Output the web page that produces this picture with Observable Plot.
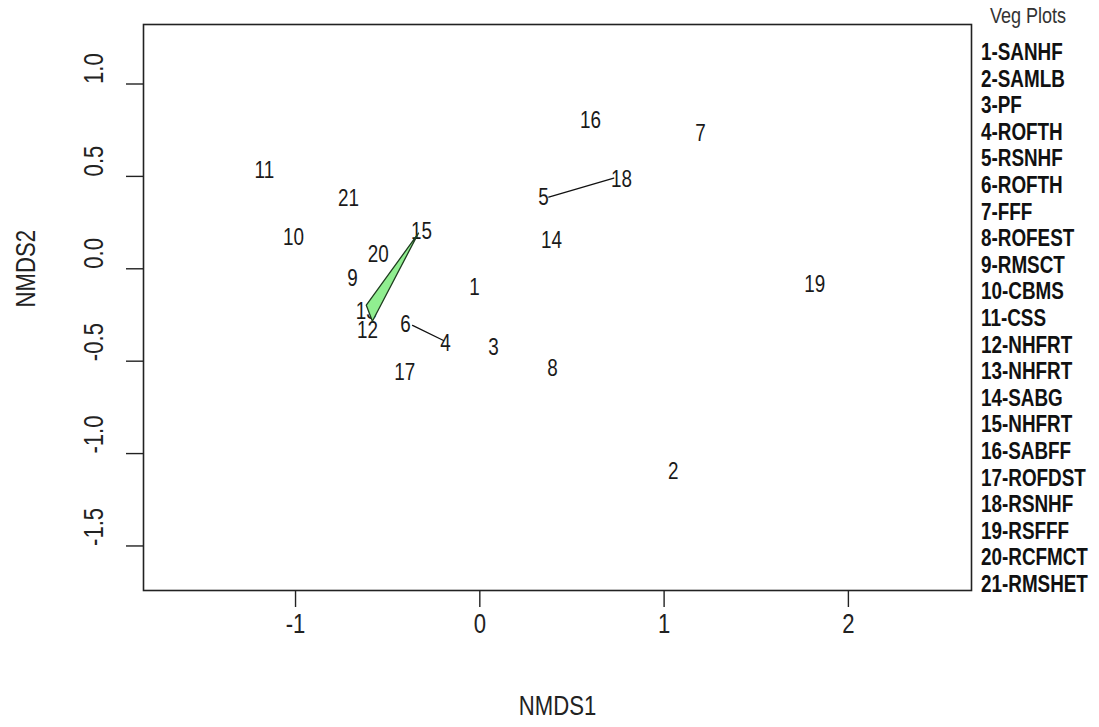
<!DOCTYPE html>
<html>
<head>
<meta charset="utf-8">
<script src="https://cdn.jsdelivr.net/npm/d3@7"></script>
<script src="https://cdn.jsdelivr.net/npm/@observablehq/plot@0.6"></script>
<style>
  html, body { margin: 0; padding: 0; background: #ffffff; }
  #wrap { position: relative; width: 1099px; height: 727px; font-family: "Liberation Sans", Arial, sans-serif; }
  #legend { position: absolute; left: 0; top: 0; width: 1099px; height: 727px; pointer-events: none; }
  .lg-title { position: absolute; font-size: 22px; color: #333; transform-origin: 50% 50%; transform: translate(-50%, -50%) scaleX(0.82); white-space: nowrap; }
  .lg-item { position: absolute; font-size: 23px; font-weight: bold; color: #111; transform-origin: 0 50%; transform: translateY(-50%) scaleX(0.82); white-space: nowrap; }
</style>
</head>
<body>
<div id="wrap"><div id="chart"></div><div id="legend"></div></div>
<script>
// ---- Data ----
const plotIds = [1, 2, 3, 4, 5, 6, 7, 8, 9, 10, 11, 12, 13, 14, 15, 16, 17, 18, 19, 20, 21];
const nmds1 = [-0.029, 1.050, 0.074, -0.186, 0.346, -0.403, 1.197, 0.394, -0.691, -1.011,
               -1.169, -0.610, -0.616, 0.389, -0.316, 0.601, -0.408, 0.769, 1.817, -0.551, -0.713];
const nmds2 = [-0.100, -1.098, -0.427, -0.404, 0.383, -0.301, 0.730, -0.539, -0.056, 0.166,
               0.530, -0.333, -0.230, 0.155, 0.199, 0.800, -0.561, 0.481, -0.084, 0.074, 0.378];
const plotNames = ["SANHF", "SAMLB", "PF", "ROFTH", "RSNHF", "ROFTH", "FFF", "ROFEST", "RMSCT", "CBMS",
                   "CSS", "NHFRT", "NHFRT", "SABG", "NHFRT", "SABFF", "ROFDST", "RSNHF", "RSFFF", "RCFMCT", "RMSHET"];

// hull outlines (vertices in NMDS units)
const hullGroup = ["NHFRT", "NHFRT", "NHFRT", "RSNHF", "RSNHF", "ROFTH", "ROFTH"];
const hullX = [-0.333, -0.616, -0.583, 0.374, 0.727, -0.365, -0.197];
const hullY = [0.193, -0.197, -0.284, 0.388, 0.491, -0.306, -0.388];
const hullFill = {NHFRT: "#90ee90", RSNHF: "none", ROFTH: "none"};

const xTicks = [-1, 0, 1, 2];
const yTicks = [-1.5, -1.0, -0.5, 0.0, 0.5, 1.0];
const xDomain = [-1.825, 2.668];
const yDomain = [-1.741, 1.322];
const legendTitle = "Veg Plots";

// ---- Build tables ----
const points = plotIds.map((id, i) => ({id, x: nmds1[i], y: nmds2[i]}));
const hullPts = hullX.map((x, i) => ({g: hullGroup[i], x, y: hullY[i]}));
const hullNames = [...new Set(hullGroup)];

const FONT = '"Liberation Sans", Arial, sans-serif';
const SQUEEZE = 0.82; // the reference's type is horizontally condensed

const chart = Plot.plot({
  width: 1099,
  height: 727,
  marginLeft: 143,
  marginRight: 128,
  marginTop: 24,
  marginBottom: 137,
  style: {fontFamily: FONT, background: "white", color: "#111"},
  x: {domain: xDomain, axis: null},
  y: {domain: yDomain, axis: null},
  marks: [
    Plot.frame({stroke: "#222", strokeWidth: 1.6}),
    Plot.axisX({ticks: xTicks, tickSize: 17, tickFormat: () => "", stroke: "#222", strokeWidth: 1.4, label: null}),
    Plot.axisY({ticks: yTicks, tickSize: 17, tickFormat: () => "", stroke: "#222", strokeWidth: 1.4, label: null}),
    Plot.text(xTicks, {x: d => d, text: d => String(d), frameAnchor: "bottom", dy: 42, fontSize: 27, fill: "#222"}),
    Plot.text(yTicks, {y: d => d, text: d => d.toFixed(1), frameAnchor: "left", dx: -49, rotate: -90, fontSize: 27, fill: "#222"}),
    Plot.text(["NMDS1"], {frameAnchor: "bottom", dy: 124, text: d => d, fontSize: 27, fill: "#222"}),
    Plot.text(["NMDS2"], {frameAnchor: "left", dx: -117, rotate: -90, text: d => d, fontSize: 27, fill: "#222"}),
    Plot.text(points, {x: "x", y: "y", text: d => String(d.id), fontSize: 23, fill: "#1a1a1a"}),
    ...hullNames.map(g => Plot.line(hullPts.filter(d => d.g === g), {
      x: "x", y: "y", curve: "linear-closed",
      fill: hullFill[g], fillOpacity: 1, stroke: g === "NHFRT" ? "#1f3d1f" : "#111", strokeWidth: 1.3
    }))
  ]
});
document.getElementById("chart").appendChild(chart);

// condense every text glyph run horizontally (along its own writing direction) about its anchor
chart.querySelectorAll("text").forEach(el => {
  const tx = parseFloat(el.getAttribute("x") || 0);
  const ty = parseFloat(el.getAttribute("y") || 0);
  const prev = el.getAttribute("transform") || "";
  el.setAttribute("transform", `${prev} translate(${tx},${ty}) scale(${SQUEEZE},1) translate(${-tx},${-ty})`.trim());
});

// ---- Legend (right side) ----
const legend = document.getElementById("legend");
const t = document.createElement("div");
t.className = "lg-title";
t.textContent = legendTitle;
t.style.left = "1028px";
t.style.top = "16px";
legend.appendChild(t);
plotIds.forEach((id, i) => {
  const el = document.createElement("div");
  el.className = "lg-item";
  el.textContent = id + "-" + plotNames[i];
  el.style.left = "981px";
  el.style.top = (52 + i * 26.6) + "px";
  legend.appendChild(el);
});
</script>
</body>
</html>
